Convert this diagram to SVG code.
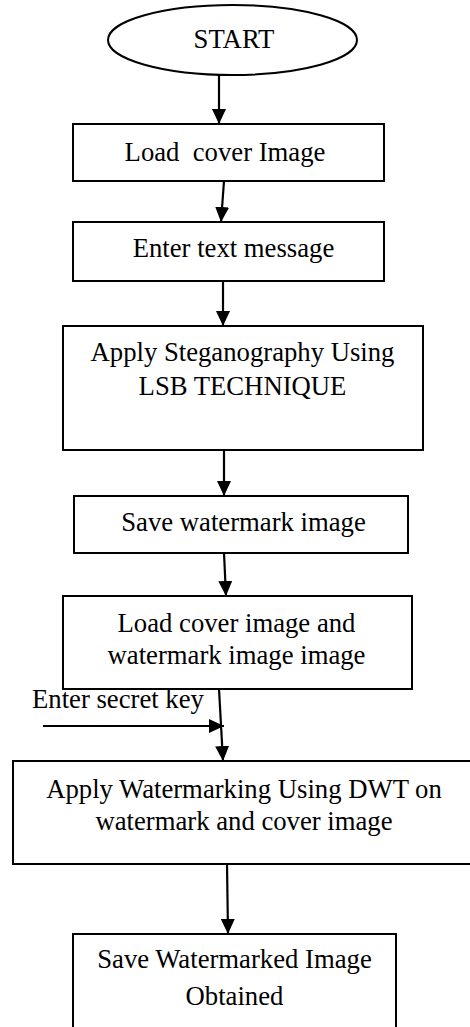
<svg xmlns="http://www.w3.org/2000/svg" width="470" height="1027" viewBox="0 0 470 1027">
<style>
.box{fill:#fff;stroke:#000;stroke-width:2}
.t{font-family:"Liberation Serif","Times New Roman",serif;font-size:26.7px;fill:#000;text-anchor:middle}
.l{font-family:"Liberation Serif","Times New Roman",serif;font-size:26.7px;fill:#000}
.c{stroke:#000;stroke-width:2.2;fill:none;marker-end:url(#ah)}
</style>
<defs>
<marker id="ah" markerUnits="userSpaceOnUse" viewBox="0 0 15 14" refX="15" refY="7" markerWidth="15" markerHeight="14" orient="auto">
<path d="M0,0 L15,7 L0,14 z" fill="#000"/>
</marker>
</defs>
<rect width="470" height="1027" fill="#fff"/>
<g id="start"><ellipse class="box" cx="232.5" cy="40" rx="124.5" ry="35" stroke-width="1.5"/><text class="t" x="234" y="48">START</text></g>
<g id="load-cover"><rect class="box" x="73" y="124" width="311" height="57"/><text class="t" x="225" y="161" xml:space="preserve">Load  cover Image</text></g>
<g id="enter-text"><rect class="box" x="73" y="222" width="311" height="59"/><text class="t" x="233.5" y="257">Enter text message</text></g>
<g id="apply-steg"><rect class="box" x="63" y="326" width="360" height="124"/><text class="t" x="242.5" y="361">Apply Steganography Using</text><text class="t" x="242.5" y="395">LSB TECHNIQUE</text></g>
<g id="save-wm"><rect class="box" x="74" y="496" width="334" height="57"/><text class="t" x="243.5" y="531">Save watermark image</text></g>
<g id="load-both"><rect class="box" x="63" y="596" width="349" height="93"/><text class="t" x="236.5" y="632">Load cover image and</text><text class="t" x="236.5" y="664">watermark image image</text></g>
<g id="apply-dwt"><rect class="box" x="13" y="761" width="463" height="103"/><text class="t" x="244" y="798">Apply Watermarking Using DWT on</text><text class="t" x="244" y="830">watermark and cover image</text></g>
<g id="save-final"><rect class="box" x="73" y="934" width="323" height="110"/><text class="t" x="234.5" y="968">Save Watermarked Image</text><text class="t" x="234.5" y="1005">Obtained</text></g>
<g id="secret-key-label"><text class="l" x="32" y="708">Enter secret key</text></g>
<g id="connectors">
<line class="c" x1="219" y1="75" x2="219" y2="124"/>
<line class="c" x1="224" y1="181" x2="221" y2="222"/>
<line class="c" x1="223" y1="281" x2="223" y2="326"/>
<line class="c" x1="224" y1="450" x2="224" y2="496"/>
<line class="c" x1="224" y1="553" x2="226" y2="596"/>
<line class="c" x1="219" y1="689" x2="223" y2="761"/>
<line class="c" x1="43" y1="726" x2="224" y2="726"/>
<line class="c" x1="227" y1="864" x2="228" y2="934"/>
</g>
</svg>
